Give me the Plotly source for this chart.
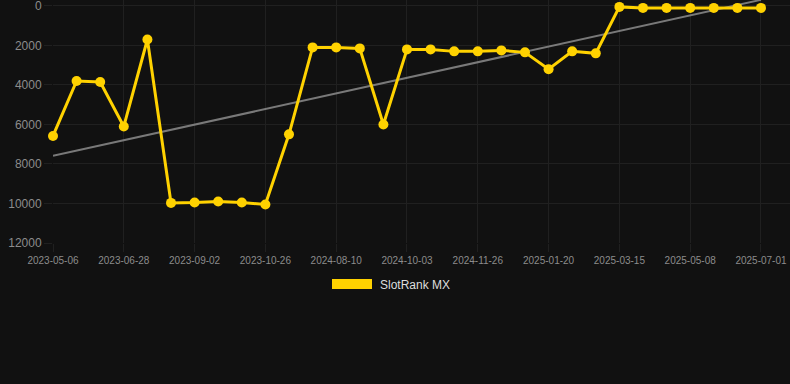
import numpy as np
import plotly.graph_objects as go

dates = [
    "2023-05-06", "2023-05-24", "2023-06-10", "2023-06-28", "2023-07-20",
    "2023-08-11", "2023-09-02", "2023-09-20", "2023-10-08", "2023-10-26",
    "2024-07-05", "2024-07-23", "2024-08-10", "2024-08-28", "2024-09-15",
    "2024-10-03", "2024-10-21", "2024-11-08", "2024-11-26", "2024-12-14",
    "2025-01-01", "2025-01-20", "2025-02-07", "2025-02-25", "2025-03-15",
    "2025-04-02", "2025-04-20", "2025-05-08", "2025-05-26", "2025-06-13",
    "2025-07-01",
]
rank = [
    6580, 3800, 3850, 6100, 1700,
    9970, 9950, 9900, 9950, 10050,
    6500, 2100, 2100, 2150, 6000,
    2200, 2200, 2300, 2300, 2250,
    2350, 3200, 2300, 2400, 50,
    100, 100, 100, 100, 100,
    100,
]
series_name = "SlotRank MX"
y_ticks = [0, 2000, 4000, 6000, 8000, 10000, 12000]
y_tick_labels = [str(v) for v in y_ticks]
x_tick_labels = dates[::3]

idx = np.arange(len(rank))
slope, intercept = np.polyfit(idx, rank, 1)
trend = slope * idx + intercept

GRID = "#202020"
GOLD = "#FFD200"

fig = go.Figure()
fig.add_trace(go.Scatter(
    x=[idx[0], idx[-1]], y=[trend[0], trend[-1]], mode="lines",
    line=dict(color="rgba(140,140,140,0.85)", width=2),
    showlegend=False, hoverinfo="skip",
))
fig.add_trace(go.Scatter(
    x=idx, y=rank, mode="lines+markers", name=series_name,
    line=dict(color=GOLD, width=3),
    marker=dict(color=GOLD, size=10),
    cliponaxis=False, showlegend=False,
))

fig.update_layout(
    width=790, height=384,
    margin=dict(l=53, r=0, t=0, b=141),
    paper_bgcolor="#111111", plot_bgcolor="#111111",
    font=dict(family="Liberation Sans, Arial, sans-serif"),
    xaxis=dict(
        range=[0, 31.23],
        tickmode="array",
        tickvals=idx[::3].tolist(),
        ticktext=x_tick_labels,
        showgrid=True, gridcolor=GRID, gridwidth=1,
        ticks="outside", ticklen=8, tickcolor=GRID,
        tickfont=dict(size=10, color="#8c8c8c"),
        zeroline=False, showline=False,
        ticklabeloverflow="allow",
    ),
    yaxis=dict(
        range=[12000, -300],
        tickmode="array", tickvals=y_ticks, ticktext=y_tick_labels,
        showgrid=True, gridcolor=GRID, gridwidth=1,
        ticks="outside", ticklen=8, tickcolor=GRID,
        tickfont=dict(size=12, color="#8c8c8c"),
        zeroline=False, showline=False,
        ticklabeloverflow="allow",
    ),
    shapes=[dict(
        type="rect", xref="paper", yref="paper",
        x0=(332 - 53) / 737, x1=(372 - 53) / 737,
        y0=(243 - 289) / 243, y1=(243 - 279) / 243,
        fillcolor=GOLD, line=dict(width=0),
    )],
    annotations=[dict(
        xref="paper", yref="paper",
        x=(378 - 53) / 737, y=(243 - 284.5) / 243,
        xanchor="left", yanchor="middle",
        text=series_name, showarrow=False,
        font=dict(size=12, color="#dddddd"),
    )],
)

fig.write_html(
    "out.html",
    config={"displayModeBar": False, "staticPlot": True},
    post_script="document.body.style.margin='0';document.body.style.background='#111111';",
)
